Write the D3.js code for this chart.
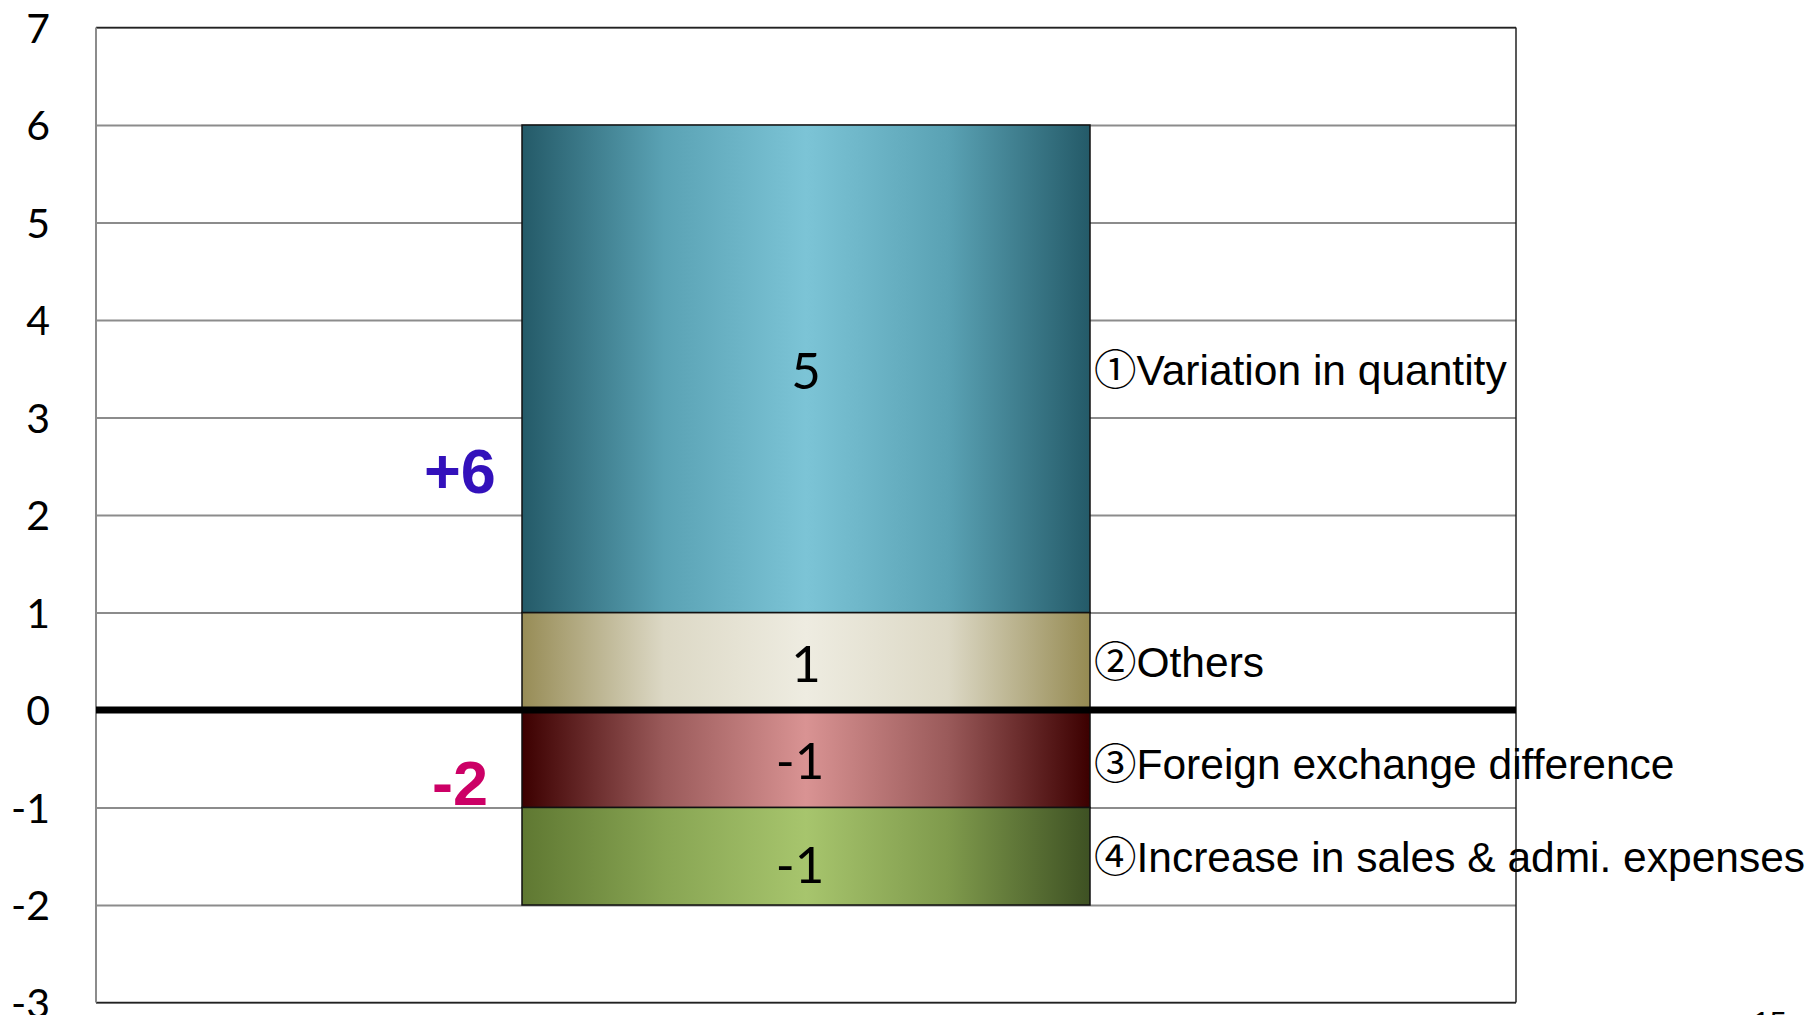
<!DOCTYPE html>
<html>
<head>
<meta charset="utf-8">
<script src="https://cdn.jsdelivr.net/npm/d3@7"></script>
<style>
  html, body { margin: 0; padding: 0; background: #ffffff; overflow: hidden; }
  svg { display: block; }
</style>
</head>
<body>
<svg id="chart" width="1814" height="1015"></svg>
<script>
// ---------- data ----------
const category = ["FY"];
const seriesKeys = ["②Others", "①Variation in quantity", "③Foreign exchange difference", "④Increase in sales & admi. expenses"];
const seriesValues = [1, 5, -1, -1];
const seriesColors = [
  ["#978c56", "#dcd8c5", "#eeece1", "#dcd8c5", "#958a52"],
  ["#245a68", "#5aa2b4", "#7cc4d6", "#5aa2b4", "#245a68"],
  ["#3c0000", "#9a5a5a", "#d99393", "#9a5a5a", "#3c0000"],
  ["#5f7832", "#88a553", "#a7c56d", "#7f9a4c", "#3e5123"]
];
const yTicks = [-3, -2, -1, 0, 1, 2, 3, 4, 5, 6, 7];
const totalLabels = ["+6", "-2"];
const totalColors = ["#3311bb", "#cc0066"];
const pageNumber = "15";

// ---------- layout ----------
const W = 1814, H = 1015;
const plot = { left: 96, right: 1516, top: 27.5, bottom: 1002.5 };
const fmt = d => String(d); // hyphen-minus as in the reference

const svg = d3.select("#chart");
svg.append("rect").attr("width", W).attr("height", H).attr("fill", "#ffffff");

const y = d3.scaleLinear().domain([-3, 7]).range([plot.bottom, plot.top]);
const x = d3.scaleBand().domain(category).range([plot.left, plot.right])
  .paddingInner(0.6).paddingOuter(0.3);

// gradients
const defs = svg.append("defs");
seriesColors.forEach((cols, i) => {
  const g = defs.append("linearGradient").attr("id", "grad" + i)
    .attr("x1", "0%").attr("x2", "100%").attr("y1", "0%").attr("y2", "0%");
  cols.forEach((c, j) => g.append("stop")
    .attr("offset", (j / (cols.length - 1) * 100) + "%").attr("stop-color", c));
});

// gridlines
const yAxisGrid = d3.axisLeft(y).tickValues(yTicks).tickSize(-(plot.right - plot.left)).tickFormat("");
const grid = svg.append("g").attr("transform", `translate(${plot.left},0)`).call(yAxisGrid);
grid.select(".domain").remove();
grid.selectAll(".tick line").attr("stroke", "#8c8c8c").attr("stroke-width", 2);

// plot border
svg.append("line").attr("x1", plot.left).attr("x2", plot.right).attr("y1", plot.top).attr("y2", plot.top)
  .attr("stroke", "#222").attr("stroke-width", 1.5);
svg.append("line").attr("x1", plot.right).attr("x2", plot.right).attr("y1", plot.top).attr("y2", plot.bottom)
  .attr("stroke", "#222").attr("stroke-width", 1.5);
svg.append("line").attr("x1", plot.left).attr("x2", plot.right).attr("y1", plot.bottom).attr("y2", plot.bottom)
  .attr("stroke", "#222").attr("stroke-width", 1.5);
svg.append("line").attr("x1", plot.left).attr("x2", plot.left).attr("y1", plot.top).attr("y2", plot.bottom)
  .attr("stroke", "#8c8c8c").attr("stroke-width", 2);

// y tick labels
const yAxis = d3.axisLeft(y).tickValues(yTicks).tickSize(0).tickPadding(0).tickFormat(fmt);
const ya = svg.append("g").attr("transform", `translate(50,0)`).call(yAxis);
ya.select(".domain").remove();
ya.selectAll(".tick text")
  .attr("font-family", "Lato, 'Open Sans', sans-serif")
  .attr("font-size", 41).attr("fill", "#000").attr("dy", "0.36em");

// stacked data
const row = { cat: category[0] };
seriesKeys.forEach((k, i) => row[k] = seriesValues[i]);
const stacked = d3.stack().keys(seriesKeys).offset(d3.stackOffsetDiverging)([row]);

const segs = svg.append("g");
stacked.forEach((s, i) => {
  const d = s[0];
  const y0 = y(Math.max(d[0], d[1])), y1 = y(Math.min(d[0], d[1]));
  segs.append("rect")
    .attr("x", x(category[0])).attr("width", x.bandwidth())
    .attr("y", y0).attr("height", y1 - y0)
    .attr("fill", `url(#grad${i})`)
    .attr("stroke", "#111").attr("stroke-width", 1.5);
});

// zero line
svg.append("line").attr("x1", plot.left).attr("x2", plot.right)
  .attr("y1", y(0)).attr("y2", y(0)).attr("stroke", "#000").attr("stroke-width", 7);

// value labels inside bars
stacked.forEach((s, i) => {
  const d = s[0];
  const mid = y((d[0] + d[1]) / 2);
  svg.append("text")
    .attr("x", x(category[0]) + x.bandwidth() / 2 - (seriesValues[i] < 0 ? 6 : 0))
    .attr("y", mid + (i === 3 ? 8 : 2)).attr("dy", "0.36em")
    .attr("text-anchor", "middle")
    .attr("font-family", "Lato, 'Open Sans', sans-serif")
    .attr("font-size", 51).attr("fill", "#000")
    .text(fmt(seriesValues[i]));
});

// series name labels to right of bar
stacked.forEach((s, i) => {
  const d = s[0];
  const mid = y((d[0] + d[1]) / 2);
  svg.append("text")
    .attr("x", x(category[0]) + x.bandwidth() + 4)
    .attr("y", mid + (i === 2 ? 20 : 16))
    .attr("font-family", "'Liberation Sans', Arial, 'Noto Sans CJK JP', sans-serif")
    .attr("font-size", 42.5).attr("fill", "#000")
    .text(seriesKeys[i]);
});

// totals
const totalPos = [2.46, -0.74];
totalLabels.forEach((t, i) => {
  svg.append("text")
    .attr("x", 460).attr("y", y(totalPos[i])).attr("dy", "0.36em")
    .attr("text-anchor", "middle")
    .attr("font-family", "'Liberation Sans', Arial, sans-serif")
    .attr("font-weight", "bold").attr("font-size", 63)
    .attr("fill", totalColors[i])
    .text(t);
});

// page number (clipped at bottom)
svg.append("text").attr("x", 1770).attr("y", 1032).attr("text-anchor", "middle")
  .attr("font-family", "'Liberation Sans', Arial, sans-serif").attr("font-size", 30)
  .attr("fill", "#000").text(pageNumber);
</script>
</body>
</html>
